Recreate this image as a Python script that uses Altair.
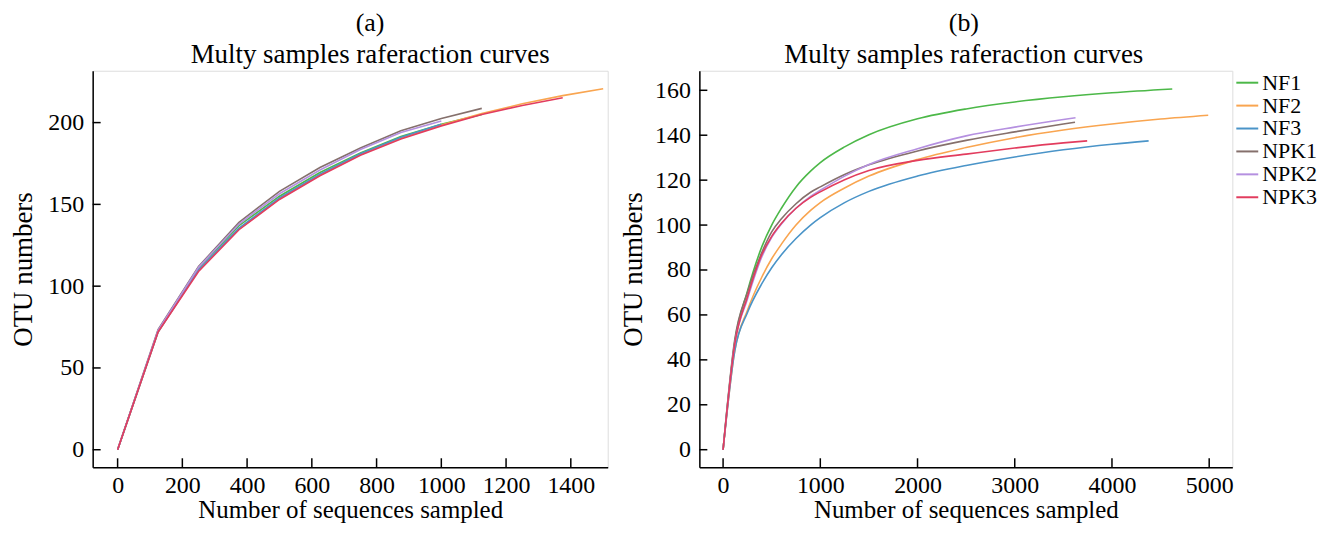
import altair as alt
import pandas as pd

FONT = "Liberation Serif"

names = ["NF1", "NF2", "NF3", "NPK1", "NPK2", "NPK3"]
colors = ["#4cb848", "#f9a550", "#4a94c8", "#85706c", "#b590e0", "#e23c5e"]

# ---------- panel (a) ----------
a_x = [0, 125, 250, 375, 500, 625, 750, 875, 1000, 1125, 1250, 1375, 1500]
a_NF1 = [0, 72.5, 111, 137, 155, 169.5, 181.5, 191.5, 199, 205]
a_NF2 = [0, 72, 110, 135, 153.5, 168, 180.5, 190.5, 198.5, 205.5, 211.5, 216.5, 220.7]
a_NF3 = [0, 72, 110, 135.5, 154, 168.5, 181, 191, 199]
a_NPK1 = [0, 73.5, 112, 139, 158, 172.5, 184.5, 195, 202.5, 208.7]
a_NPK2 = [0, 73, 111.5, 138, 156.5, 171, 183.5, 194, 201]
a_NPK3 = [0, 72, 109, 134.5, 153, 167.5, 180, 190, 198, 205, 210.5, 215.2]

a_xticks = [0, 200, 400, 600, 800, 1000, 1200, 1400]
a_yticks = [0, 50, 100, 150, 200]

# ---------- panel (b) ----------
b_NF1_x = [0, 120, 250, 400, 500, 600, 750, 900, 1000, 1250, 1500, 2000, 2500, 3000, 3500, 4000, 4620]
b_NF1_y = [0, 48, 70.5, 90.5, 100, 107.5, 117, 124, 127.8, 134.8, 140.2, 147.3, 151.7, 154.8, 157.1, 158.9, 160.6]
b_NF2_x = [0, 120, 250, 400, 500, 600, 750, 900, 1000, 1250, 1500, 2000, 2500, 3000, 3500, 4000, 4500, 4990]
b_NF2_y = [0, 44, 62, 77, 85, 91.5, 100, 106.5, 110, 116.5, 121.8, 129.2, 134.5, 138.9, 142.3, 145, 147.2, 148.9]
b_NF3_x = [0, 120, 250, 400, 500, 600, 750, 900, 1000, 1250, 1500, 2000, 2500, 3000, 3500, 4000, 4377]
b_NF3_y = [0, 44, 61, 74, 81, 86.8, 94, 100, 103.3, 110, 115, 121.8, 126.5, 130.3, 133.5, 136, 137.5]
b_NPK1_x = [0, 120, 250, 400, 500, 600, 750, 900, 1000, 1250, 1500, 2000, 2500, 3000, 3500, 3620]
b_NPK1_y = [0, 49, 70, 88, 97, 102.8, 109.5, 114.6, 117, 122.5, 126.8, 133, 137.7, 141.5, 145, 145.8]
b_NPK2_x = [0, 120, 250, 400, 500, 600, 750, 900, 1000, 1250, 1500, 2000, 2500, 3000, 3500, 3625]
b_NPK2_y = [0, 47, 67, 86, 94.5, 100.5, 107.5, 112.8, 115.5, 121.8, 127, 134, 139.7, 143.6, 147, 147.8]
b_NPK3_x = [0, 120, 250, 400, 500, 600, 750, 900, 1000, 1250, 1500, 2000, 2500, 3000, 3500, 3745]
b_NPK3_y = [0, 47, 68, 87, 95, 100.8, 107.5, 112.3, 114.8, 120.2, 124.3, 128.8, 131.6, 134.3, 136.6, 137.5]

b_xticks = [0, 1000, 2000, 3000, 4000, 5000]
b_yticks = [0, 20, 40, 60, 80, 100, 120, 140, 160]


def long_df(xs_list, ys_list):
    rows = []
    for i, (n, xs, ys) in enumerate(zip(names, xs_list, ys_list)):
        for x, y in zip(xs, ys):
            rows.append({"series": n, "order": i, "x": x, "y": y})
    return pd.DataFrame(rows)


a_ys = [a_NF1, a_NF2, a_NF3, a_NPK1, a_NPK2, a_NPK3]
df_a = long_df([a_x[:len(y)] for y in a_ys], a_ys)
df_b = long_df([b_NF1_x, b_NF2_x, b_NF3_x, b_NPK1_x, b_NPK2_x, b_NPK3_x],
               [b_NF1_y, b_NF2_y, b_NF3_y, b_NPK1_y, b_NPK2_y, b_NPK3_y])

H = 398


def axis(values, title, orient, tpad=10):
    common = dict(values=values, title=title, grid=False, ticks=False, tickSize=0,
                  format="d",
                  domainColor="black", domainWidth=1.5,
                  labelFont=FONT, labelFontSize=24, labelColor="black",
                  titleFont=FONT, titleFontSize=27, titleFontWeight="normal",
                  titleColor="black")
    if orient == "x":
        common.update(labelPadding=6, titlePadding=0, titleFontSize=25)
    else:
        common.update(labelPadding=9, titlePadding=tpad)
    return alt.Axis(**common)


def panel(df, xdom, ydom, xticks, yticks, width, tag, interp, legend, dx, tpad):
    xs = alt.Scale(domain=xdom, nice=False, zero=False)
    ys = alt.Scale(domain=ydom, nice=False, zero=False)
    ax = axis(xticks, "Number of sequences sampled", "x")
    ay = axis(yticks, "OTU numbers", "y", tpad)
    lines = alt.Chart(df).mark_line(strokeWidth=1.6, interpolate=interp).encode(
        x=alt.X("x:Q", scale=xs, axis=ax),
        y=alt.Y("y:Q", scale=ys, axis=ay),
        color=alt.Color("series:N", scale=alt.Scale(domain=names, range=colors),
                        legend=legend),
        detail="series:N",
        order=alt.Order("x:Q"),
    )
    xt = alt.Chart(pd.DataFrame({"x": xticks})).mark_rule(color="black", strokeWidth=1.5).encode(
        x=alt.X("x:Q", scale=xs, axis=ax),
        y=alt.value(H - 9), y2=alt.value(H),
    )
    yt = alt.Chart(pd.DataFrame({"y": yticks})).mark_rule(color="black", strokeWidth=1.5).encode(
        y=alt.Y("y:Q", scale=ys, axis=ay),
        x=alt.value(0), x2=alt.value(8),
    )
    return alt.layer(lines, xt, yt).properties(
        width=width, height=H,
        title=alt.TitleParams(text=tag, subtitle="Multy samples raferaction curves",
                              font=FONT, fontSize=26, fontWeight="normal", color="black",
                              subtitleFont=FONT, subtitleFontSize=27, subtitleColor="black",
                              subtitlePadding=6, anchor="middle", offset=3, dx=dx),
    )


legend_b = alt.Legend(title=None, orient="none", legendX=538, legendY=0, padding=0,
                      labelFont=FONT, labelFontSize=22, labelColor="black",
                      symbolType="stroke", symbolSize=484, symbolStrokeWidth=2,
                      rowPadding=0, labelOffset=3)

pa = panel(df_a, [-77, 1514], [-10.7, 231.7], a_xticks, a_yticks, 517, "(a)", "linear", None, 20, 10)
pb = panel(df_b, [-244, 5238], [-7.8, 168.7], b_xticks, b_yticks, 535, "(b)", "monotone", legend_b, -2, 7)

chart = alt.hconcat(pa, pb, spacing=10).resolve_legend(color="independent").properties(
    padding={"left": 1, "top": 0, "right": 0, "bottom": 0}
).configure_view(stroke=None).configure(background="white")

chart.save("out.html", embed_options={"renderer": "svg", "actions": False})
